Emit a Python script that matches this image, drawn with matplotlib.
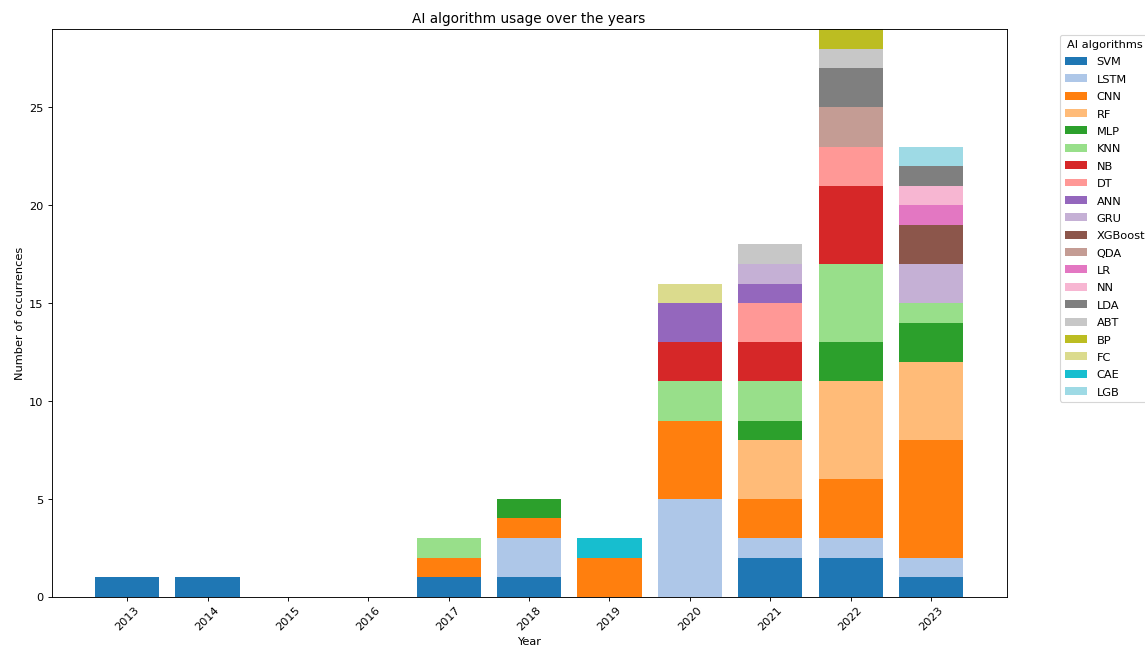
import matplotlib.pyplot as plt
import numpy as np

# Data
years = ["2013", "2014", "2015", "2016", "2017", "2018", "2019", "2020", "2021", "2022", "2023"]
algorithms = ["SVM", "LSTM", "CNN", "RF", "MLP", "KNN", "NB", "DT", "ANN", "GRU",
              "XGBoost", "QDA", "LR", "NN", "LDA", "ABT", "BP", "FC", "CAE", "LGB"]

#           2013 2014 2015 2016 2017 2018 2019 2020 2021 2022 2023
svm     = [1, 1, 0, 0, 1, 1, 0, 0, 2, 2, 1]
lstm    = [0, 0, 0, 0, 0, 2, 0, 5, 1, 1, 1]
cnn     = [0, 0, 0, 0, 1, 1, 2, 4, 2, 3, 6]
rf      = [0, 0, 0, 0, 0, 0, 0, 0, 3, 5, 4]
mlp     = [0, 0, 0, 0, 0, 1, 0, 0, 1, 2, 2]
knn     = [0, 0, 0, 0, 1, 0, 0, 2, 2, 4, 1]
nb      = [0, 0, 0, 0, 0, 0, 0, 2, 2, 4, 0]
dt      = [0, 0, 0, 0, 0, 0, 0, 0, 2, 2, 0]
ann     = [0, 0, 0, 0, 0, 0, 0, 2, 1, 0, 0]
gru     = [0, 0, 0, 0, 0, 0, 0, 0, 1, 0, 2]
xgboost = [0, 0, 0, 0, 0, 0, 0, 0, 0, 0, 2]
qda     = [0, 0, 0, 0, 0, 0, 0, 0, 0, 2, 0]
lr      = [0, 0, 0, 0, 0, 0, 0, 0, 0, 0, 1]
nn      = [0, 0, 0, 0, 0, 0, 0, 0, 0, 0, 1]
lda     = [0, 0, 0, 0, 0, 0, 0, 0, 0, 2, 1]
abt     = [0, 0, 0, 0, 0, 0, 0, 0, 1, 1, 0]
bp      = [0, 0, 0, 0, 0, 0, 0, 0, 0, 1, 0]
fc      = [0, 0, 0, 0, 0, 0, 0, 1, 0, 0, 0]
cae     = [0, 0, 0, 0, 0, 0, 1, 0, 0, 0, 0]
lgb     = [0, 0, 0, 0, 0, 0, 0, 0, 0, 0, 1]

counts = [svm, lstm, cnn, rf, mlp, knn, nb, dt, ann, gru,
          xgboost, qda, lr, nn, lda, abt, bp, fc, cae, lgb]

colors = plt.cm.tab20.colors

fig, ax = plt.subplots(figsize=(14, 7.93), dpi=81.8)
fig.subplots_adjust(left=0.045, right=0.879, top=0.954, bottom=0.079)

x = np.arange(len(years))
bottom = np.zeros(len(years))
for i, (name, vals) in enumerate(zip(algorithms, counts)):
    vals = np.array(vals)
    ax.bar(x, vals, bottom=bottom, color=colors[i], label=name)
    bottom += vals

ax.set_xticks(x)
ax.set_xticklabels(years, rotation=45)
ax.set_ylim(0, 29)
ax.set_xlabel("Year")
ax.set_ylabel("Number of occurrences")
ax.set_title("AI algorithm usage over the years")
ax.legend(title="AI algorithms", bbox_to_anchor=(1.05, 1), loc="upper left",
          labelspacing=0.65)

plt.savefig("out.png", dpi=81.8)
